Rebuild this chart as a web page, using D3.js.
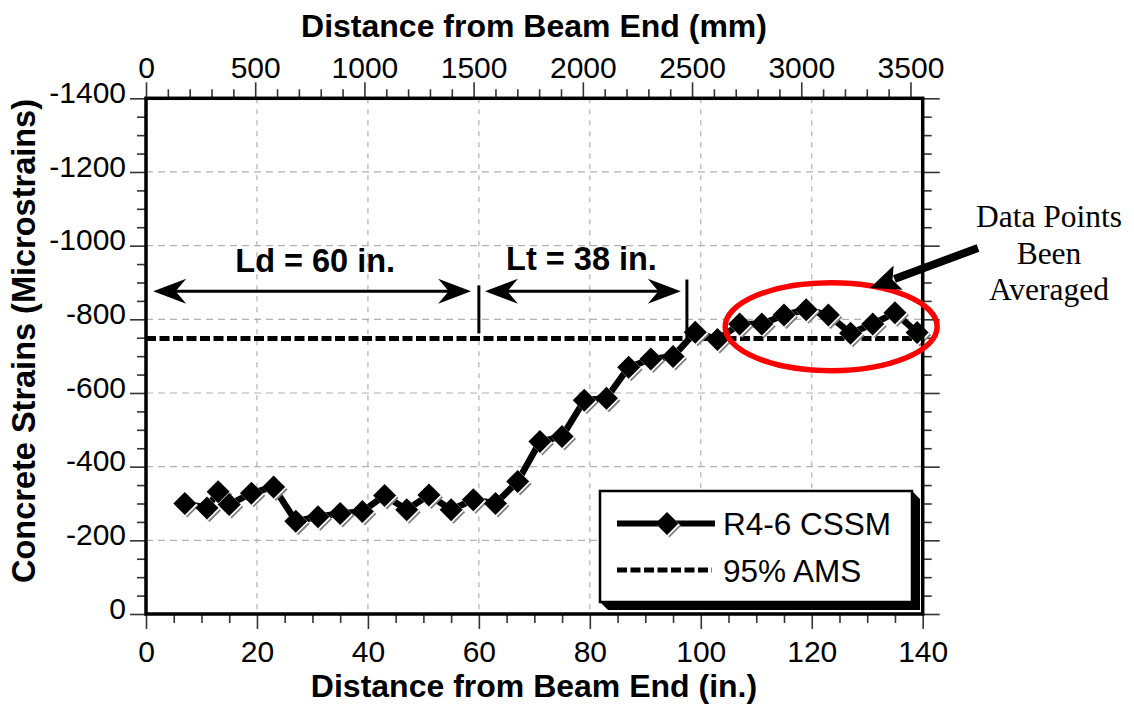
<!DOCTYPE html>
<html><head><meta charset="utf-8">
<script src="https://cdn.jsdelivr.net/npm/d3@7"></script>
<style>body{margin:0;background:#fff}svg{display:block}</style>
</head><body>
<svg id="chart" width="1134" height="707"></svg>
<script>
// ---------- data ----------
const positionsIn = [7,11,13,15,19,23,27,31,35,39,43,47,51,55,59,63,67,71,75,79,83,87,91,95,99,103,107,111,115,119,123,127,131,135,139];
const cssmStrain  = [-300,-288,-332,-297,-328,-345,-252,-264,-273,-278,-322,-283,-323,-283,-310,-300,-360,-468,-482,-580,-586,-670,-692,-699,-765,-745,-787,-787,-812,-826,-812,-762,-787,-818,-764];
const amsStrain = -748;
const seriesNames = ["R4-6 CSSM", "95% AMS"];
const xTicksIn = [0,20,40,60,80,100,120,140];
const xTicksMm = [0,500,1000,1500,2000,2500,3000,3500];
const yTicks = [0,-200,-400,-600,-800,-1000,-1200,-1400];
const spanLabels = ["Ld = 60 in.", "Lt = 38 in."];
const spanArrows = [[1.3, 58.6], [61.1, 96.4]];   // inches
const spanBars = [[60, -892, -762], [97.5, -908, -749]]; // x, y1, y2
const noteLines = ["Data Points", "Been", "Averaged"];

// ---------- layout ----------
const L = 146, R = 922.7, T = 98.3, B = 614;
const SANS = "'Liberation Sans', Arial, sans-serif";
const SERIF = "'Liberation Serif', 'Times New Roman', serif";
const svg = d3.select("#chart");
const x = d3.scaleLinear().domain([0, 140]).range([L, R]);
const xmm = d3.scaleLinear().domain([0, 140 * 25.4]).range([L, R]);
const y = d3.scaleLinear().domain([0, -1400]).range([B, T]);

// gridlines
svg.append("g").selectAll("line").data(xTicksIn.filter(v => v > 0 && v < 140)).join("line")
  .attr("x1", d => x(d)).attr("x2", d => x(d)).attr("y1", T).attr("y2", B)
  .attr("stroke", "#b0b0b0").attr("stroke-width", 1.2).attr("stroke-dasharray", "5,6");
svg.append("g").selectAll("line").data(yTicks.filter(v => v < 0 && v > -1400)).join("line")
  .attr("y1", d => y(d)).attr("y2", d => y(d)).attr("x1", L).attr("x2", R)
  .attr("stroke", "#b0b0b0").attr("stroke-width", 1.2).attr("stroke-dasharray", "7,5");

function styleAxis(g, fs) {
  g.select(".domain").remove();
  g.selectAll(".tick line").attr("stroke", "#333").attr("stroke-width", 1.6);
  g.selectAll(".tick text").attr("font-family", SANS).attr("font-size", fs).attr("fill", "#000");
}
const fmt = d => String(d);
const TFS = 30;
// bottom
svg.append("g").attr("transform", `translate(0,${B})`)
  .call(d3.axisBottom(x).tickValues(xTicksIn).tickSize(15).tickPadding(12).tickFormat(fmt)).call(g => styleAxis(g, TFS));
svg.append("g").attr("transform", `translate(0,${B})`)
  .call(d3.axisBottom(x).tickValues(d3.range(0, 141, 5).filter(v => v % 20)).tickSize(9).tickFormat("")).call(g => styleAxis(g, TFS));
// top
svg.append("g").attr("transform", `translate(0,${T})`)
  .call(d3.axisTop(xmm).tickValues(xTicksMm).tickSize(16).tickPadding(4).tickFormat(fmt)).call(g => styleAxis(g, TFS));
svg.append("g").attr("transform", `translate(0,${T})`)
  .call(d3.axisTop(xmm).tickValues(d3.range(0, 3600, 100).filter(v => v % 500)).tickSize(9).tickFormat("")).call(g => styleAxis(g, TFS));
// left
svg.append("g").attr("transform", `translate(${L},0)`)
  .call(d3.axisLeft(y).tickValues(yTicks).tickSize(16).tickPadding(4).tickFormat(fmt)).call(g => styleAxis(g, TFS))
  .call(g => g.selectAll(".tick text").attr("dy", "0.14em"));
svg.append("g").attr("transform", `translate(${L},0)`)
  .call(d3.axisLeft(y).tickValues(d3.range(0, -1401, -50).filter(v => v % 200)).tickSize(9).tickFormat("")).call(g => styleAxis(g, TFS));
// right
svg.append("g").attr("transform", `translate(${R},0)`)
  .call(d3.axisRight(y).tickValues(yTicks).tickSize(17).tickFormat("")).call(g => styleAxis(g, TFS));
svg.append("g").attr("transform", `translate(${R},0)`)
  .call(d3.axisRight(y).tickValues(d3.range(0, -1401, -50).filter(v => v % 200)).tickSize(9).tickFormat("")).call(g => styleAxis(g, TFS));

// axis titles
svg.append("text").attr("x", 534).attr("y", 697).attr("text-anchor", "middle")
  .attr("font-family", SANS).attr("font-weight", "bold").attr("font-size", 32).text("Distance from Beam End (in.)");
svg.append("text").attr("x", 534).attr("y", 37).attr("text-anchor", "middle")
  .attr("font-family", SANS).attr("font-weight", "bold").attr("font-size", 32).text("Distance from Beam End (mm)");
svg.append("text").attr("transform", "translate(35,341) rotate(-90)").attr("text-anchor", "middle")
  .attr("font-family", SANS).attr("font-weight", "bold").attr("font-size", 32.5).text("Concrete Strains (Microstrains)");

// 95% AMS line
svg.append("line").attr("x1", x(0)).attr("x2", x(140)).attr("y1", y(amsStrain)).attr("y2", y(amsStrain))
  .attr("stroke", "#000").attr("stroke-width", 5).attr("stroke-dasharray", "10,3.5");

// CSSM line
const pts = positionsIn.map((p, i) => [p, cssmStrain[i]]);
svg.append("path").datum(pts)
  .attr("d", d3.line().x(d => x(d[0])).y(d => y(d[1])))
  .attr("fill", "none").attr("stroke", "#000").attr("stroke-width", 6.5).attr("stroke-linejoin", "round");

const diamond = r => `M0,${-r}L${r},0L0,${r}L${-r},0Z`;
function drawMarker(g, cx, cy) {
  g.append("path").attr("d", diamond(11.5)).attr("transform", `translate(${cx + 2.5},${cy + 2.5})`).attr("fill", "#808080");
  g.append("path").attr("d", diamond(11.5)).attr("transform", `translate(${cx + 1.2},${cy + 1.2})`).attr("fill", "#fff");
  g.append("path").attr("d", diamond(11.5)).attr("transform", `translate(${cx},${cy})`).attr("fill", "#000");
}
const mg = svg.append("g");
pts.forEach(d => drawMarker(mg, x(d[0]), y(d[1])));

// frame
svg.append("rect").attr("x", L).attr("y", T).attr("width", R - L).attr("height", B - T)
  .attr("fill", "none").attr("stroke", "#000").attr("stroke-width", 3.5);

// span annotations
function arrowHead(tx, ty, dir) { // dir: -1 points left, +1 points right
  const Lh = 33, h = 12.5;
  return `M${tx},${ty}L${tx - dir * Lh},${ty - h}L${tx - dir * Lh * 0.68},${ty}L${tx - dir * Lh},${ty + h}Z`;
}
const ay = y(-876);
spanArrows.forEach((s, i) => {
  svg.append("line").attr("x1", x(s[0]) + 8).attr("x2", x(s[1]) - 8).attr("y1", ay).attr("y2", ay)
    .attr("stroke", "#000").attr("stroke-width", 3);
  svg.append("path").attr("d", arrowHead(x(s[0]), ay, -1)).attr("fill", "#000");
  svg.append("path").attr("d", arrowHead(x(s[1]), ay, 1)).attr("fill", "#000");
});
spanBars.forEach(b => {
  svg.append("line").attr("x1", x(b[0])).attr("x2", x(b[0])).attr("y1", y(b[1])).attr("y2", y(b[2]))
    .attr("stroke", "#000").attr("stroke-width", 3);
});
const labelPos = [[30.5, -928], [78.5, -933]];
spanLabels.forEach((t, i) => {
  svg.append("text").attr("x", x(labelPos[i][0])).attr("y", y(labelPos[i][1])).attr("text-anchor", "middle")
    .attr("font-family", SANS).attr("font-weight", "bold").attr("font-size", 32.5).text(t);
});

// red ellipse
svg.append("ellipse").attr("cx", x(123.5)).attr("cy", y(-780)).attr("rx", 106).attr("ry", 44)
  .attr("fill", "none").attr("stroke", "#f00").attr("stroke-width", 5.5);

// pointer arrow
{
  const sx = 978, sy = 248, tx = 870, ty = 288;
  const len = Math.hypot(tx - sx, ty - sy), ux = (tx - sx) / len, uy = (ty - sy) / len;
  const nx = -uy, ny = ux, hl = 30, hw = 13;
  const bx = tx - ux * hl, by = ty - uy * hl;
  svg.append("line").attr("x1", sx).attr("y1", sy).attr("x2", bx + ux * 4).attr("y2", by + uy * 4)
    .attr("stroke", "#000").attr("stroke-width", 8);
  svg.append("path").attr("d", `M${tx},${ty}L${bx + nx * hw},${by + ny * hw}L${bx + ux * 6},${by + uy * 6}L${bx - nx * hw},${by - ny * hw}Z`).attr("fill", "#000");
}
// note text
noteLines.forEach((t, i) => {
  svg.append("text").attr("x", 1049).attr("y", 227 + i * 36.5).attr("text-anchor", "middle")
    .attr("font-family", SERIF).attr("font-size", 31.5).text(t);
});

// legend
{
  const lx = 600, ly = 491, lw = 312, lh = 111, off = 8;
  svg.append("path").attr("d", `M${lx + lw},${ly}L${lx + lw + off},${ly + off}L${lx + lw + off},${ly + lh + off}L${lx + off},${ly + lh + off}L${lx},${ly + lh}L${lx + lw},${ly + lh}Z`).attr("fill", "#000");
  svg.append("rect").attr("x", lx).attr("y", ly).attr("width", lw).attr("height", lh)
    .attr("fill", "#fff").attr("stroke", "#000").attr("stroke-width", 2.5);
  svg.append("line").attr("x1", 617).attr("x2", 715).attr("y1", 523.5).attr("y2", 523.5).attr("stroke", "#000").attr("stroke-width", 6);
  drawMarker(svg, 667, 523.5);
  svg.append("line").attr("x1", 617).attr("x2", 712).attr("y1", 570).attr("y2", 570).attr("stroke", "#000").attr("stroke-width", 5).attr("stroke-dasharray", "10,3.5");
  seriesNames.forEach((t, i) => {
    svg.append("text").attr("x", 723).attr("y", 535 + i * 46.5).attr("font-family", SANS).attr("font-size", 31.5).text(t);
  });
}
</script>
</body></html>
